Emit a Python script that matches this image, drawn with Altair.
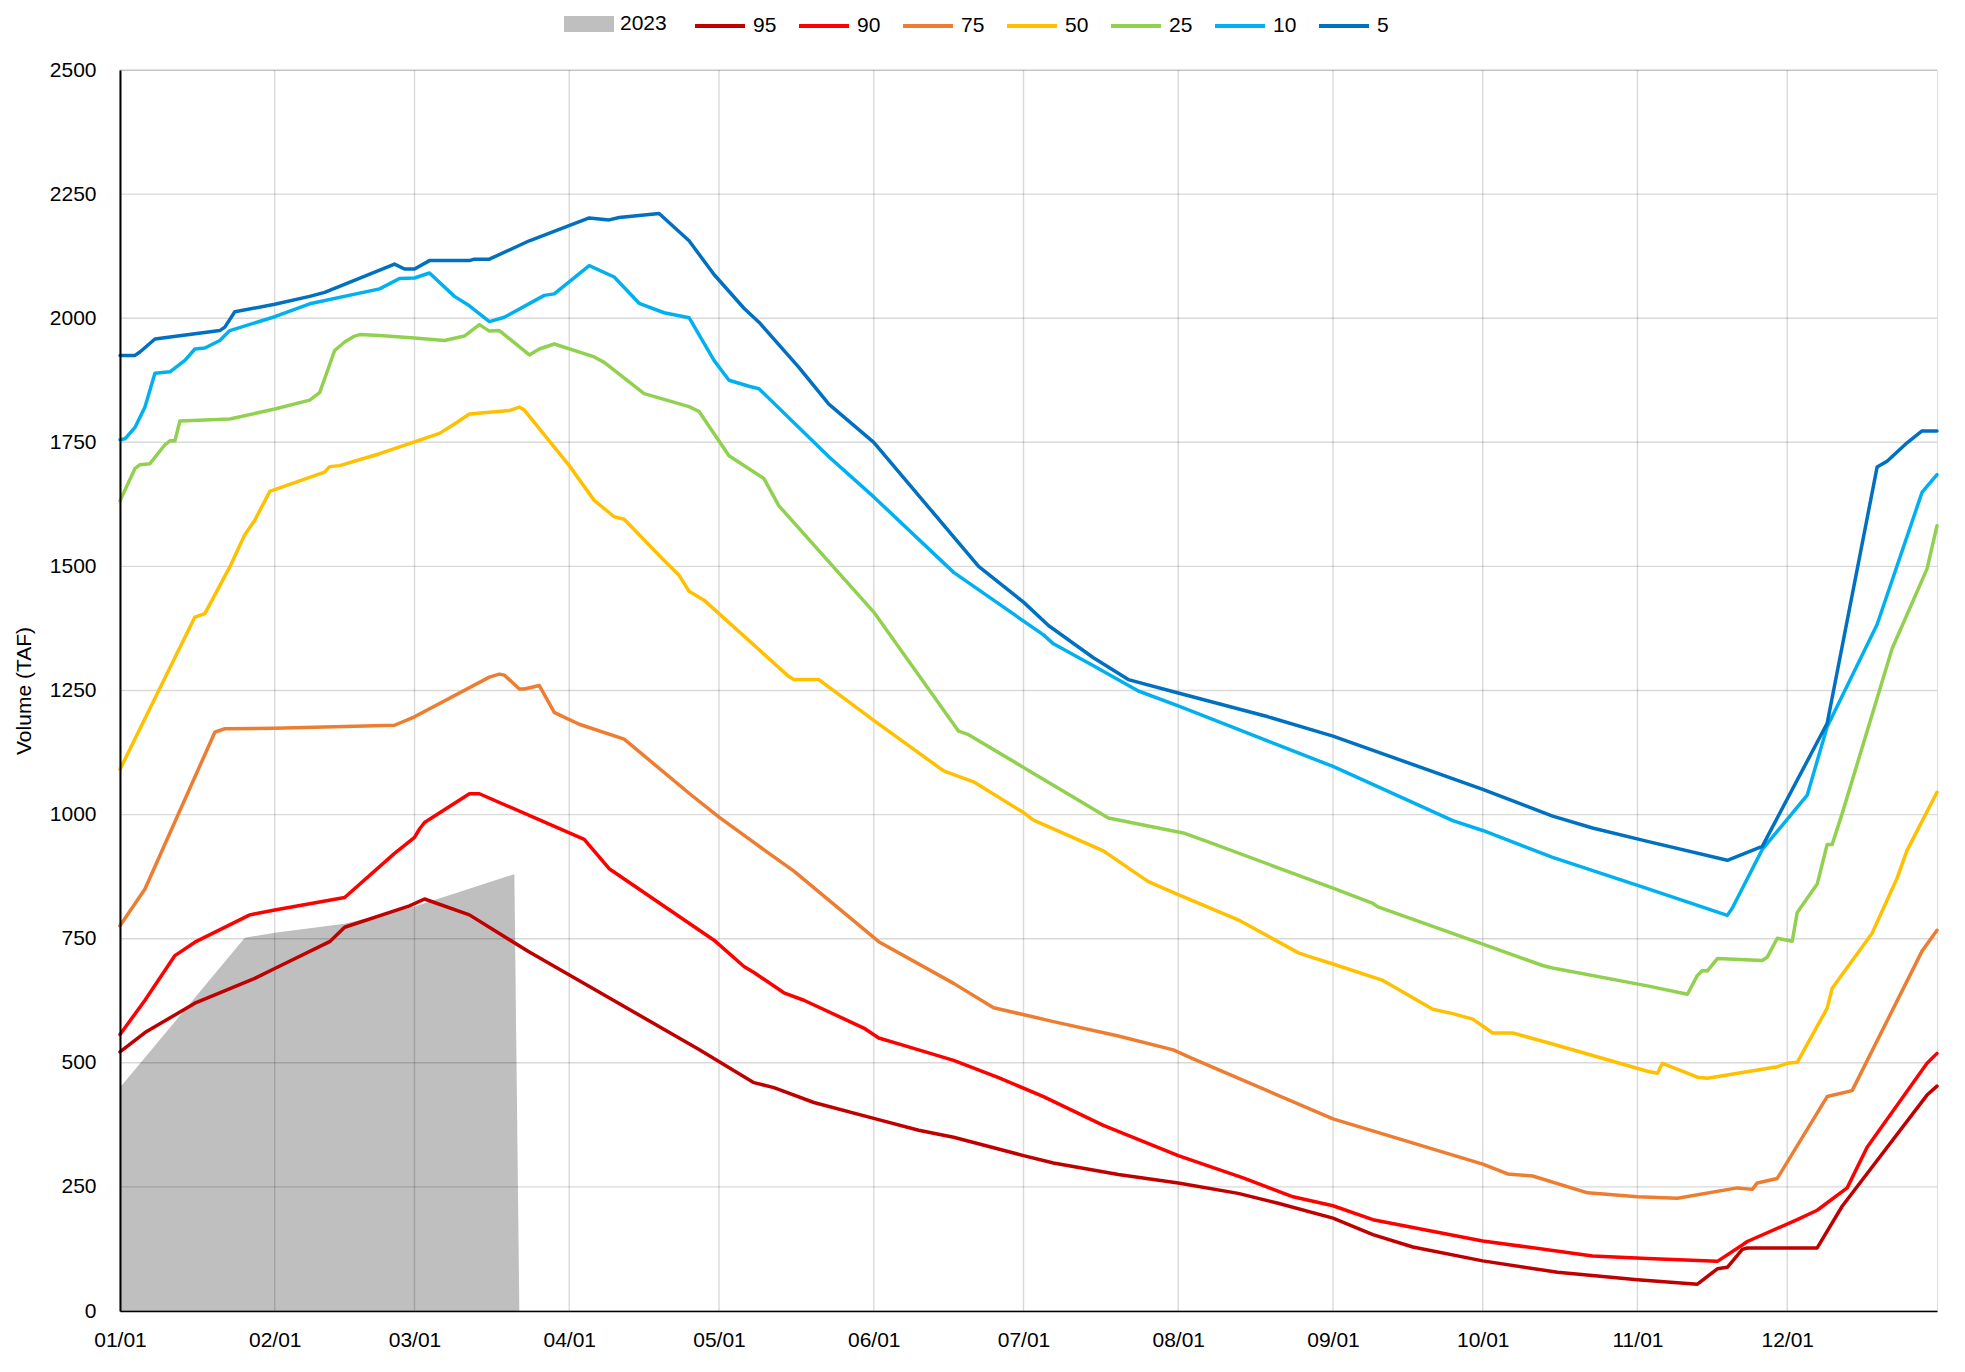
import altair as alt
import pandas as pd

# ---------------- data ----------------
series_names = ["95", "90", "75", "50", "25", "10", "5"]
series_colors = ["#C00000", "#FF0000", "#ED7D31", "#FFC000", "#92D050", "#00B0F0", "#0070C0"]

month_days = [0, 31, 59, 90, 120, 151, 181, 212, 243, 273, 304, 334]
month_labels = ["01/01", "02/01", "03/01", "04/01", "05/01", "06/01",
                "07/01", "08/01", "09/01", "10/01", "11/01", "12/01"]
y_ticks = [0, 250, 500, 750, 1000, 1250, 1500, 1750, 2000, 2250, 2500]

# 2023 observed volume (area)
area_name = "2023"
days_2023 = [0, 25, 31, 45, 59, 79, 80]
vals_2023 = [450, 752, 762, 780, 815, 880, 0]

days_95 = [0, 5, 15, 27, 31, 42, 45, 58, 61, 70, 82, 95, 116, 127, 131, 139, 151, 160, 167, 181,
           187, 200, 212, 224, 232, 243, 251, 259, 273, 288, 304, 316, 320, 322, 325, 326, 340,
           345, 362, 364]
vals_95 = [522, 561, 620, 670, 690, 744, 773, 816, 830, 798, 723, 648, 527, 460, 450, 420, 388, 364,
           350, 313, 298, 275, 258, 237, 217, 187, 154, 129, 101, 78, 63, 54, 85, 88, 124, 127, 127,
           211, 435, 453]

days_90 = [0, 5, 11, 15, 26, 31, 45, 55, 59, 60, 61, 70, 72, 93, 98, 119, 125, 127, 133, 137, 149,
           152, 157, 167, 176, 185, 197, 212, 225, 235, 243, 251, 273, 295, 306, 320, 325, 326, 336,
           340, 346, 350, 362, 364]
vals_90 = [557, 626, 716, 743, 798, 808, 833, 922, 954, 971, 984, 1042, 1042, 950, 891, 747, 694, 682,
           641, 626, 570, 550, 535, 505, 470, 432, 374, 313, 268, 230, 212, 184, 141, 111, 106, 100,
           133, 140, 184, 203, 248, 330, 499, 519]

days_75 = [0, 5, 19, 21, 31, 55, 59, 74, 76, 77, 80, 81, 84, 87, 88, 92, 101, 114, 120, 126, 135,
           152, 167, 175, 187, 200, 211, 215, 243, 273, 278, 283, 294, 304, 312, 324, 327, 328, 332,
           342, 347, 361, 364]
vals_75 = [776, 850, 1166, 1173, 1174, 1180, 1197, 1277, 1283, 1281, 1253, 1253, 1260, 1206, 1201,
           1182, 1152, 1043, 995, 951, 886, 744, 660, 611, 583, 554, 526, 508, 387, 296, 276, 272,
           238, 230, 227, 248, 245, 258, 267, 432, 444, 725, 767]

days_50 = [0, 15, 17, 22, 25, 27, 30, 41, 42, 44, 52, 59, 64, 67, 70, 78, 80, 81, 90, 95, 99, 101,
           109, 112, 114, 117, 134, 135, 140, 151, 165, 171, 181, 183, 197, 206, 212, 224, 236, 238,
           243, 253, 263, 267, 271, 275, 279, 287, 306, 308, 309, 316, 318, 332, 334, 336, 342, 343,
           351, 356, 358, 364]
vals_50 = [1091, 1398, 1405, 1499, 1564, 1593, 1651, 1690, 1701, 1703, 1727, 1751, 1768, 1787, 1807,
           1814, 1821, 1815, 1703, 1633, 1600, 1595, 1512, 1482, 1450, 1432, 1278, 1272, 1272, 1190,
           1088, 1066, 1004, 989, 927, 865, 839, 788, 722, 715, 699, 666, 608, 599, 588, 560, 560,
           538, 483, 479, 499, 471, 469, 492, 499, 501, 610, 650, 761, 872, 928, 1045]

days_25 = [0, 3, 4, 6, 9, 10, 11, 12, 22, 31, 38, 40, 43, 45, 47, 48, 52, 59, 65, 69, 72, 74, 76,
           82, 84, 87, 95, 97, 105, 114, 116, 122, 129, 132, 151, 168, 170, 181, 198, 213, 218, 243,
           251, 252, 273, 285, 287, 306, 314, 316, 317, 318, 320, 329, 330, 332, 335, 336, 340, 342,
           343, 345, 355, 362, 364]
vals_25 = [1632, 1697, 1705, 1707, 1745, 1753, 1753, 1793, 1797, 1817, 1835, 1850, 1935, 1952, 1964,
           1967, 1965, 1960, 1955, 1964, 1987, 1974, 1975, 1926, 1938, 1948, 1922, 1911, 1848, 1822,
           1812, 1723, 1677, 1622, 1408, 1168, 1161, 1095, 993, 963, 945, 852, 821, 814, 739, 696,
           691, 655, 638, 676, 686, 685, 710, 706, 713, 751, 745, 803, 860, 940, 940, 1002, 1334,
           1495, 1582]

days_10 = [0, 1, 3, 5, 7, 10, 13, 15, 17, 20, 22, 31, 38, 52, 56, 59, 62, 67, 70, 74, 77, 85, 87,
           94, 99, 104, 109, 114, 119, 122, 126, 128, 142, 151, 167, 175, 185, 187, 195, 204, 212,
           243, 267, 273, 287, 306, 322, 323, 329, 338, 342, 352, 361, 362, 364]
vals_10 = [1755, 1757, 1780, 1821, 1889, 1892, 1915, 1938, 1940, 1955, 1975, 2003, 2029, 2059, 2080,
           2081, 2091, 2044, 2025, 1993, 2002, 2046, 2049, 2106, 2083, 2030, 2011, 2001, 1915, 1875,
           1863, 1858, 1721, 1640, 1488, 1432, 1362, 1344, 1300, 1249, 1219, 1097, 988, 968, 914,
           851, 797, 812, 930, 1039, 1177, 1383, 1649, 1661, 1685]

days_5 = [0, 3, 4, 7, 20, 21, 23, 31, 38, 41, 55, 57, 59, 62, 70, 71, 74, 82, 94, 98, 100, 108,
          114, 119, 125, 128, 136, 142, 151, 162, 172, 181, 186, 195, 202, 212, 230, 243, 273, 287,
          295, 306, 322, 329, 342, 352, 354, 358, 361, 364]
vals_5 = [1925, 1925, 1932, 1958, 1975, 1982, 2013, 2028, 2044, 2052, 2109, 2099, 2099, 2116, 2116,
          2119, 2119, 2156, 2202, 2198, 2203, 2211, 2156, 2088, 2020, 1992, 1901, 1827, 1750, 1619,
          1500, 1428, 1381, 1316, 1272, 1245, 1197, 1158, 1051, 997, 973, 946, 908, 936, 1184,
          1700, 1712, 1749, 1773, 1773]

series_data = {
    "95": (days_95, vals_95),
    "90": (days_90, vals_90),
    "75": (days_75, vals_75),
    "50": (days_50, vals_50),
    "25": (days_25, vals_25),
    "10": (days_10, vals_10),
    "5": (days_5, vals_5),
}

# ---------------- tables ----------------
rows = []
for order, name in enumerate(series_names):
    d, v = series_data[name]
    for dd, vv in zip(d, v):
        rows.append({"day": dd, "value": vv, "series": name, "ord": order})
lines_df = pd.DataFrame(rows)
area_df = pd.DataFrame({"day": days_2023, "value": vals_2023, "label": area_name})
vgrid_df = pd.DataFrame({"day": month_days})
hgrid_df = pd.DataFrame({"value": y_ticks})

FONT = "Liberation Sans"
FS = 21
label_expr = "[" + ",".join("'%s'" % s for s in month_labels) + "][indexof([" + \
    ",".join(str(d) for d in month_days) + "], datum.value)]"

X = alt.X("day:Q",
          scale=alt.Scale(domain=[0, 364], nice=False, zero=False),
          axis=alt.Axis(values=month_days, labelExpr=label_expr, title=None, grid=False,
                        ticks=False, domainColor="#000000", domainWidth=1.5, labelFontSize=FS,
                        labelPadding=18, labelColor="#000000", labelFont=FONT,
                        labelOverlap=False, labelFlush=False, zindex=1))
Y = alt.Y("value:Q",
          scale=alt.Scale(domain=[0, 2500], nice=False),
          axis=alt.Axis(values=y_ticks, format="d", title="Volume (TAF)", grid=False,
                        ticks=False, domainColor="#000000", domainWidth=2, labelFontSize=FS,
                        labelPadding=24, labelColor="#000000", labelFont=FONT, labelFlush=False,
                        titleFont=FONT, titleFontSize=FS, titleFontWeight="normal",
                        titleColor="#000000", titlePadding=15, zindex=1))

rect_path = "M-1,-0.32L1,-0.32L1,0.32L-1,0.32Z"
LEG_Y = -71

area = alt.Chart(area_df).mark_area(opacity=1, interpolate="linear").encode(
    x=X, y=Y,
    fill=alt.Fill("label:N", scale=alt.Scale(domain=[area_name], range=["#BFBFBF"]),
                  legend=alt.Legend(title=None, orient="none", legendX=444, legendY=LEG_Y,
                                    symbolType=rect_path, symbolSize=2500, symbolStrokeWidth=0,
                                    symbolOpacity=1, labelFontSize=FS, labelFont=FONT,
                                    labelColor="#000000", labelOffset=6)),
)

vgrid = alt.Chart(vgrid_df).mark_rule(color="#000000", opacity=0.15, strokeWidth=1.4).encode(x=X)
hgrid = alt.Chart(hgrid_df).mark_rule(color="#000000", opacity=0.15, strokeWidth=1.4).encode(y=Y)

lines = alt.Chart(lines_df).mark_line(strokeWidth=3.5, strokeJoin="round", strokeCap="round").encode(
    x=X, y=Y,
    stroke=alt.Stroke("series:N", scale=alt.Scale(domain=series_names, range=series_colors),
                      legend=alt.Legend(title=None, orient="none", legendX=573, legendY=LEG_Y,
                                        direction="horizontal", columns=7, symbolType="stroke",
                                        symbolSize=2500, symbolStrokeWidth=4, labelFontSize=FS,
                                        labelFont=FONT, labelColor="#000000", labelOffset=6,
                                        columnPadding=14)),
    order=alt.Order("day:Q"),
    detail="ord:O",
)

chart = alt.layer(area, vgrid, hgrid, lines).properties(
    width=1817, height=1241,
    autosize=alt.AutoSizeParams(type="none"),
    padding={"left": 112, "top": 62, "right": 20, "bottom": 55},
    background="white",
).resolve_legend(fill="independent", stroke="independent").configure_view(
    stroke="#000000", strokeWidth=1.5).configure(font=FONT)

chart.save("out.html", embed_options={"renderer": "svg", "actions": False})
